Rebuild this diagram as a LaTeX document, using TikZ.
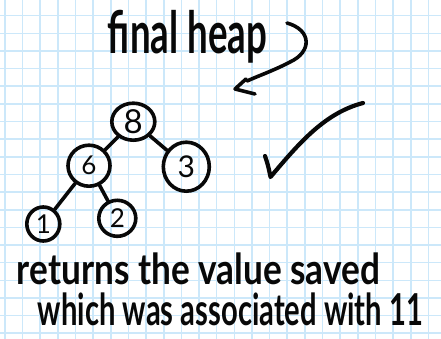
\documentclass[tikz,border=0pt]{standalone}
\usepackage{fontspec}
\setmainfont{Lato}
\usepackage{graphicx}
\usetikzlibrary{shapes.geometric}
\definecolor{gridblue}{RGB}{204,232,250}
\definecolor{ink}{RGB}{8,8,8}
\tikzset{
  gridline/.style={draw=gridblue, line width=1.6pt},
  heapnode/.style={ellipse, draw=ink, line width=3.6pt, inner sep=0pt, text=ink, font=\fontsize{26}{26}\selectfont},
  heapedge/.style={draw=ink, line width=3.6pt, line cap=round},
  pen/.style={draw=ink, line width=3.6pt, line cap=round, line join=round},
  hand/.style={inner sep=0pt, text=ink}
}
\begin{document}
\begin{tikzpicture}[x=1pt,y=-1pt]
\useasboundingbox (0,0) rectangle (441,339);
\fill[white] (0,0) rectangle (441,339);
\foreach \i in {0,...,24} \draw[gridline] ({5+17.64*\i},0) -- ({5+17.64*\i},339);
\foreach \j in {0,...,18} \draw[gridline] (0,{15.7+17.64*\j}) -- (441,{15.7+17.64*\j});

% heap
\node[heapnode, minimum width=43pt, minimum height=37pt, font=\fontsize{33}{33}\selectfont] (n8) at (133.3,121.7) {8};
\node[heapnode, minimum width=42pt, minimum height=41pt] (n6) at (89,165.7) {6};
\node[heapnode, minimum width=46pt, minimum height=49pt, font=\fontsize{30}{30}\selectfont] (n3) at (186.3,166.7) {3};
\node[heapnode, minimum width=33pt, minimum height=34pt] (n1) at (43.3,224) {1};
\node[heapnode, minimum width=37pt, minimum height=36pt] (n2) at (117.3,218.3) {2};
\draw[heapedge] (n8) -- (n6);
\draw[heapedge] (n8) -- (n3);
\draw[heapedge] (n6) -- (n1);
\draw[heapedge] (n6) -- (n2);

% texts
\node[hand, font=\bfseries] (title) at (187.5,36.5) {\resizebox*{159pt}{53pt}{final heap}};
\node[hand] (line1) at (198.5,269) {\resizebox*{363pt}{32pt}{\bfseries returns the value saved}};
\node[hand] (line2) at (230.5,309.5) {\resizebox*{385pt}{33pt}{\bfseries which was associated with 11}};

% arrow
\coordinate (a0) at (287,23);
\coordinate (a1) at (247,81);
\coordinate (tipA) at (246,79);
\coordinate (tip) at (235,89);
\coordinate (tipB) at (255,94);
\draw[pen] (a0) .. controls (312,30) and (312,52) .. (290,62) .. controls (275,70) and (258,76) .. (a1);
\draw[pen] (tipA) -- (tip) -- (tipB);

% check mark
\coordinate (c0) at (265,156);
\coordinate (c1) at (270.5,177);
\coordinate (c2) at (363,103);
\draw[pen, line width=4.2pt] (c0) .. controls (268,165) .. (c1) .. controls (300,142) and (325,113) .. (c2);
\end{tikzpicture}
\end{document}
